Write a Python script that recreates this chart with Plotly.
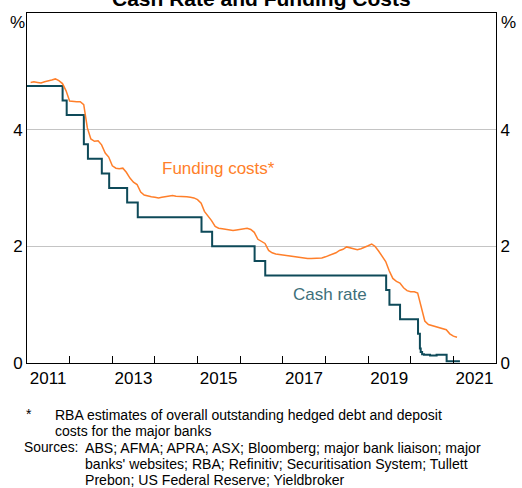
import plotly.graph_objects as go

# Funding costs (monthly, %), Feb 2011 - Feb 2021
funding_dates = [f"{y}-{m:02d}-01" for y in range(2011, 2022) for m in range(1, 13)][1:122]
funding_costs = [
    4.81, 4.82, 4.81, 4.80, 4.82, 4.83, 4.85, 4.87, 4.84, 4.79, 4.67,        # 2011 Feb-Dec
    4.49, 4.48, 4.48, 4.48, 4.43, 4.03, 3.84, 3.80, 3.81, 3.74, 3.60, 3.53,  # 2012
    3.38, 3.34, 3.33, 3.34, 3.27, 3.17, 3.10, 3.06, 2.93, 2.88, 2.86, 2.85,  # 2013
    2.84, 2.83, 2.84, 2.85, 2.87, 2.87, 2.86, 2.86, 2.86, 2.85, 2.84, 2.83,  # 2014
    2.80, 2.74, 2.60, 2.52, 2.44, 2.34, 2.31, 2.30, 2.29, 2.29, 2.27, 2.28,  # 2015
    2.29, 2.30, 2.31, 2.29, 2.24, 2.12, 2.09, 2.05, 1.93, 1.89, 1.87, 1.86,  # 2016
    1.85, 1.84, 1.83, 1.82, 1.81, 1.80, 1.79, 1.79, 1.79, 1.79, 1.80, 1.80,  # 2017
    1.82, 1.84, 1.86, 1.89, 1.93, 1.95, 1.99, 1.97, 1.95, 1.94, 1.96, 1.98,  # 2018
    2.01, 2.04, 2.00, 1.92, 1.84, 1.74, 1.58, 1.45, 1.40, 1.37, 1.29, 1.24,  # 2019
    1.22, 1.22, 1.20, 0.95, 0.72, 0.66, 0.64, 0.62, 0.61, 0.59, 0.57, 0.50,  # 2020
    0.46, 0.44,                                                              # 2021
]

# Cash rate (%), step changes
cash_dates = [
    "2011-01-01", "2011-11-02", "2011-12-07", "2012-05-02", "2012-06-06",
    "2012-10-03", "2012-12-05", "2013-05-08", "2013-08-07", "2015-02-04",
    "2015-05-06", "2016-05-04", "2016-08-03", "2019-06-05", "2019-07-03",
    "2019-10-02", "2020-03-04", "2020-03-20", "2020-03-27", "2020-04-08",
    "2020-04-24", "2020-06-15", "2020-08-10", "2020-11-04", "2021-02-26",
]
cash_rate = [
    4.75, 4.50, 4.25, 3.75, 3.50,
    3.25, 3.00, 2.75, 2.50, 2.25,
    2.00, 1.75, 1.50, 1.25, 1.00,
    0.75, 0.50, 0.25, 0.19, 0.15,
    0.14, 0.13, 0.14, 0.03, 0.03,
]

year_ticks = [f"{y}-01-01" for y in range(2012, 2022)]
label_vals = [f"{y}-07-01" for y in range(2011, 2022, 2)]
label_text = [str(y) for y in range(2011, 2022, 2)]
y_ticks = [0, 2, 4]

footnote_lines = ["RBA estimates of overall outstanding hedged debt and deposit",
                  "costs for the major banks"]
source_lines = ["ABS; AFMA; APRA; ASX; Bloomberg; major bank liaison; major",
                "banks' websites; RBA; Refinitiv; Securitisation System; Tullett",
                "Prebon; US Federal Reserve; Yieldbroker"]

ORANGE = "#ff7f2a"
TEAL = "#0e4a59"
TEAL_TXT = "#3e6f7a"
FONT = "Arial, Liberation Sans, sans-serif"

fig = go.Figure()

fig.add_trace(go.Scatter(x=cash_dates, y=cash_rate, mode="lines", line_shape="hv",
                         line=dict(color=TEAL, width=2), showlegend=False))
fig.add_trace(go.Scatter(x=funding_dates, y=funding_costs, mode="lines",
                         line=dict(color=ORANGE, width=1.5), showlegend=False))
# invisible trace so the right axis is drawn
fig.add_trace(go.Scatter(x=[], y=[], yaxis="y2", showlegend=False))

fig.update_layout(
    width=522, height=488,
    margin=dict(l=27, r=19, t=12, b=125),
    paper_bgcolor="white", plot_bgcolor="white",
    font=dict(family=FONT, size=17, color="black"),
    xaxis=dict(
        type="date", range=["2011-01-01", "2022-01-01"],
        tickvals=label_vals, ticktext=label_text, ticks="",
        showline=True, linecolor="black", linewidth=1, mirror=True,
        showgrid=False, zeroline=False,
        minor=dict(tickvals=year_ticks, ticks="inside", ticklen=7,
                   tickcolor="black", showgrid=False),
    ),
    yaxis=dict(
        range=[0, 6], tickvals=y_ticks, ticks="",
        showline=True, linecolor="black", linewidth=1,
        showgrid=True, gridcolor="#c4c4c4", gridwidth=1, zeroline=False,
    ),
    yaxis2=dict(
        range=[0, 6], tickvals=y_ticks, ticks="", overlaying="y", side="right",
        showline=True, linecolor="black", linewidth=1,
        showgrid=False, zeroline=False,
    ),
)

annotations = []
annotations.append(dict(xref="paper", yref="paper", x=0.5, y=1.002,
                        xanchor="center", yanchor="bottom",
                        text="<b>Cash Rate and Funding Costs</b>",
                        font=dict(size=21), showarrow=False))
annotations.append(dict(xref="paper", yref="paper", x=-0.001, y=0.974,
                        xanchor="right", yanchor="middle", text="%",
                        showarrow=False))
annotations.append(dict(xref="paper", yref="paper", x=1.006, y=0.974,
                        xanchor="left", yanchor="middle", text="%",
                        showarrow=False))
annotations.append(dict(x="2014-02-10", y=3.33, xanchor="left", yanchor="middle",
                        text="Funding costs*", font=dict(color=ORANGE),
                        showarrow=False))
annotations.append(dict(x="2017-03-08", y=1.18, xanchor="left", yanchor="middle",
                        text="Cash rate", font=dict(color=TEAL_TXT),
                        showarrow=False))

# footnotes
foot = dict(xref="paper", yref="paper", xanchor="left", yanchor="middle",
            align="left", showarrow=False, font=dict(size=14))
annotations.append(dict(foot, x=-0.006, y=-0.145, text="*"))
for i, line in enumerate(footnote_lines):
    annotations.append(dict(foot, x=0.055, y=-0.15 - 0.044 * i, text=line))

annotations.append(dict(foot, x=-0.01, y=-0.242, text="Sources:",
                        font=dict(size=13.8)))
for i, line in enumerate(source_lines):
    annotations.append(dict(foot, x=0.12, y=-0.242 - 0.0456 * i, text=line,
                            font=dict(size=14.1)))

fig.update_layout(annotations=annotations)

fig.write_html("out.html", config={"displayModeBar": False},
               post_script="document.body.style.margin = '0px';")
